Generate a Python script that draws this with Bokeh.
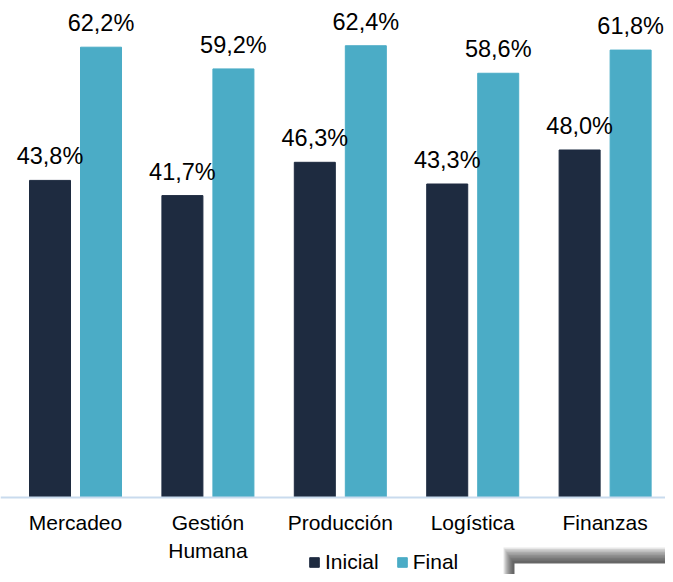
from bokeh.plotting import figure
from bokeh.models import ColumnDataSource, Range1d, FixedTicker, Legend, LegendItem, BoxAnnotation, LinearAxis
from bokeh.embed import file_html
from bokeh.resources import INLINE
from bokeh.core.properties import value

categories = ["Mercadeo", "Gestión\nHumana", "Producción", "Logística", "Finanzas"]
inicial = [43.8, 41.7, 46.3, 43.3, 48.0]
final = [62.2, 59.2, 62.4, 58.6, 61.8]
series_names = ["Inicial", "Final"]

def fmt(v):
    return f"{v:.1f}".replace(".", ",") + "%"

idx = list(range(len(categories)))
off = 0.1926
bw = 0.3097

src_i = ColumnDataSource(dict(x=[i - off for i in idx], top=inicial, lab=[fmt(v) for v in inicial]))
src_f = ColumnDataSource(dict(x=[i + off for i in idx], top=final, lab=[fmt(v) for v in final]))

p = figure(width=665, height=574, output_backend="svg", toolbar_location=None,
           x_range=Range1d(-0.5665, 4.456), y_range=Range1d(-10.64, 68.65),
           x_axis_location=None, y_axis_location=None,
           min_border_left=0, min_border_right=0, min_border_top=0, min_border_bottom=0)
p.outline_line_color = None
p.xgrid.visible = False
p.ygrid.visible = False

FONT = "Liberation Sans"
r1 = p.vbar(x="x", top="top", width=bw, source=src_i, fill_color="#1e2b40", line_color="#1e2b40")
r2 = p.vbar(x="x", top="top", width=bw, source=src_f, fill_color="#4bacc6", line_color="#4bacc6")

for s in (src_i, src_f):
    p.text(x="x", y="top", text="lab", source=s, text_align="center", text_baseline="alphabetic",
           y_offset=-24, text_font=value(FONT), text_font_size=value("23.5px"), text_color="#000000")

ax = LinearAxis(fixed_location=0)
ax.ticker = FixedTicker(ticks=idx)
ax.major_label_overrides = {i: c for i, c in zip(idx, categories)}
ax.major_tick_line_color = None
ax.minor_tick_line_color = None
ax.major_tick_out = 0
ax.major_tick_in = 0
ax.axis_line_color = "#c9dbee"
ax.axis_line_width = 2
ax.major_label_standoff = 14
ax.major_label_text_font = FONT
ax.major_label_text_font_size = "21px"
ax.major_label_text_color = "#000000"
p.add_layout(ax, "below")

legend = Legend(items=[LegendItem(label=series_names[0], renderers=[r1]),
                       LegendItem(label=series_names[1], renderers=[r2])],
                orientation="horizontal", location=(308, 0),
                glyph_width=12, glyph_height=12, label_standoff=5, spacing=17,
                padding=0, margin=0, border_line_color=None, background_fill_alpha=0,
                label_text_font=FONT, label_text_font_size="21px", label_text_color="#000000")
p.add_layout(legend, "center")

# soft drop shadow of a neighbouring box at the bottom right (decoration);
# screen y is measured from the bottom of the canvas
for k in range(10):
    p.add_layout(BoxAnnotation(left=503 + k, right=700, top=27 - 1.5 * k, bottom=-60,
                               left_units="screen", right_units="screen",
                               top_units="screen", bottom_units="screen",
                               fill_color="#222222", fill_alpha=0.11, line_color=None))
p.add_layout(BoxAnnotation(left=514, right=700, top=11, bottom=-60,
                           left_units="screen", right_units="screen",
                           top_units="screen", bottom_units="screen",
                           fill_color="#ffffff", fill_alpha=1, line_color=None))

open("out.html", "w").write(file_html(p, INLINE))
